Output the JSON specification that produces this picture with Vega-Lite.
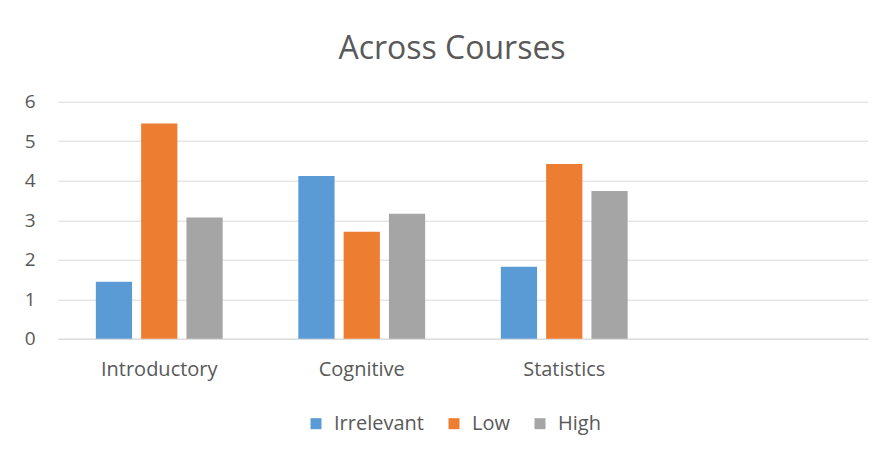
{
  "$schema": "https://vega.github.io/schema/vega-lite/v6.json",
  "autosize": {"type": "none"},
  "width": 810,
  "height": 237,
  "padding": {"left": 58, "top": 101.7, "right": 24, "bottom": 123},
  "background": "white",
  "title": {
    "text": "Across Courses",
    "font": "Open Sans",
    "fontSize": 32,
    "fontWeight": "normal",
    "color": "#595959",
    "anchor": "middle",
    "dx": -11,
    "offset": 27
  },
  "data": {
    "values": [
      {"course": "Introductory", "level": "Irrelevant", "value": 1.44},
      {"course": "Introductory", "level": "Low", "value": 5.45},
      {"course": "Introductory", "level": "High", "value": 3.07},
      {"course": "Cognitive", "level": "Irrelevant", "value": 4.12},
      {"course": "Cognitive", "level": "Low", "value": 2.71},
      {"course": "Cognitive", "level": "High", "value": 3.16},
      {"course": "Statistics", "level": "Irrelevant", "value": 1.82},
      {"course": "Statistics", "level": "Low", "value": 4.42},
      {"course": "Statistics", "level": "High", "value": 3.74}
    ]
  },
  "mark": {"type": "bar"},
  "encoding": {
    "x": {
      "field": "course",
      "type": "nominal",
      "scale": {"domain": ["Introductory", "Cognitive", "Statistics", " "], "paddingInner": 0, "paddingOuter": 0},
      "axis": {
        "title": null,
        "labelAngle": 0,
        "ticks": false,
        "domainColor": "#D9D9D9",
        "domainWidth": 1,
        "labelFont": "Open Sans",
        "labelFontSize": 20,
        "labelColor": "#595959",
        "labelPadding": 21
      }
    },
    "xOffset": {
      "field": "level",
      "type": "nominal",
      "scale": {"domain": ["Irrelevant", "Low", "High"], "paddingInner": 0.2, "paddingOuter": 0.835}
    },
    "y": {
      "field": "value",
      "type": "quantitative",
      "scale": {"domain": [0, 6], "nice": false},
      "axis": {
        "title": null,
        "values": [0, 1, 2, 3, 4, 5, 6],
        "ticks": false,
        "domain": false,
        "gridColor": "#D9D9D9",
        "gridWidth": 1,
        "labelFont": "Open Sans",
        "labelFontSize": 19,
        "labelColor": "#595959",
        "labelPadding": 23
      }
    },
    "color": {
      "field": "level",
      "type": "nominal",
      "scale": {"domain": ["Irrelevant", "Low", "High"], "range": ["#5B9BD5", "#ED7D31", "#A5A5A5"]},
      "legend": {
        "title": null,
        "orient": "none",
        "direction": "horizontal",
        "legendX": 248,
        "legendY": 312,
        "symbolType": "square",
        "symbolSize": 121,
        "symbolStrokeWidth": 0,
        "symbolOpacity": 1,
        "labelFont": "Open Sans",
        "labelFontSize": 20,
        "labelColor": "#595959",
        "labelOffset": 8,
        "columnPadding": 20
      }
    }
  },
  "config": {"view": {"stroke": null}}
}
